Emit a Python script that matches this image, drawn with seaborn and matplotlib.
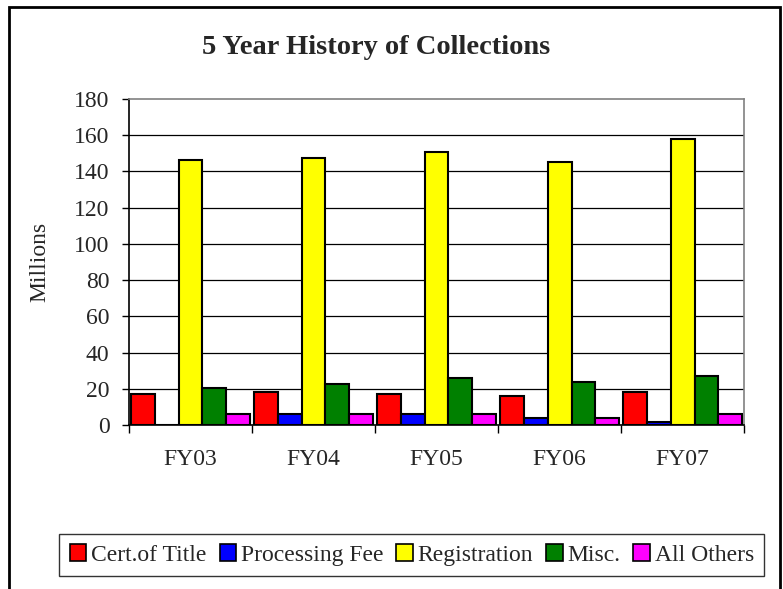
import seaborn as sns
import pandas as pd
import matplotlib.pyplot as plt
from matplotlib.patches import Rectangle

years = ['FY03', 'FY04', 'FY05', 'FY06', 'FY07']
series = ['Cert.of Title', 'Processing Fee', 'Registration', 'Misc.', 'All Others']
cert_of_title = [17.1, 18.2, 17.1, 16.3, 18.2]
processing_fee = [0.0, 6.2, 6.2, 4.0, 1.6]
registration = [146.3, 147.4, 150.7, 145.2, 158.0]
misc = [20.6, 22.6, 26.2, 23.6, 26.9]
all_others = [6.2, 5.9, 6.2, 4.0, 5.9]
colors = ['#FF0000', '#0000FF', '#FFFF00', '#008000', '#FF00FF']

values = [cert_of_title, processing_fee, registration, misc, all_others]
rows = []
for name, vals in zip(series, values):
    for yr, v in zip(years, vals):
        rows.append({'Year': yr, 'Series': name, 'Millions': v})
df = pd.DataFrame(rows)

sns.set_style('white')
plt.rcParams['font.family'] = ['Liberation Serif', 'DejaVu Serif']

fig = plt.figure(figsize=(7.83, 5.89), dpi=100)
ax = fig.add_axes([0.1648, 0.2784, 0.7855, 0.5535])

sns.barplot(data=df, x='Year', y='Millions', hue='Series', hue_order=series,
            order=years, palette=colors, width=0.97, edgecolor='black',
            linewidth=1.5, saturation=1, ax=ax, legend=False)

ax.set_ylim(0, 180)
ax.set_xlim(-0.5, 4.5)
ax.set_yticks(range(0, 181, 20))
ax.tick_params(axis='y', labelsize=17, length=5, width=1, direction='out',
               left=True, color='black', pad=9)
for y in range(20, 180, 20):
    ax.axhline(y, color='black', lw=0.9, zorder=0)

# category labels between boundary ticks
ax.set_xticks([i - 0.5 for i in range(6)])
ax.set_xticklabels([])
ax.set_xticks(range(5), minor=True)
ax.set_xticklabels(years, minor=True, fontsize=17)
ax.tick_params(axis='x', which='major', length=6, width=1, bottom=True, color='black')
ax.tick_params(axis='x', which='minor', length=0, pad=17.5)

ax.set_xlabel('')
ax.set_ylabel('Millions', fontsize=17)
ax.yaxis.set_label_coords(-0.128, 0.5)
for s in ['top', 'right']:
    ax.spines[s].set_color('#808080')
    ax.spines[s].set_linewidth(1.2)
for s in ['left', 'bottom']:
    ax.spines[s].set_color('black')
    ax.spines[s].set_linewidth(1.2)

fig.text(0.48, 0.92, '5 Year History of Collections', ha='center', va='center',
         fontsize=20.5, fontweight='bold')

handles = [Rectangle((0, 0), 1, 1, facecolor=c, edgecolor='black', lw=1.2) for c in colors]
leg = fig.legend(handles, series, loc='center', bbox_to_anchor=(0.526, 0.0577),
                 ncol=5, fontsize=17, frameon=True, fancybox=False,
                 handlelength=0.7, handleheight=0.7, handletextpad=0.2,
                 columnspacing=0.55, borderpad=0.45, borderaxespad=0)
leg.get_frame().set_edgecolor('black')
leg.get_frame().set_linewidth(1)

fig.patches.append(Rectangle((0.011, -0.01), 0.985, 0.998, transform=fig.transFigure,
                             fill=False, edgecolor='black', lw=2))

fig.savefig('out.png', dpi=100)
plt.close()
